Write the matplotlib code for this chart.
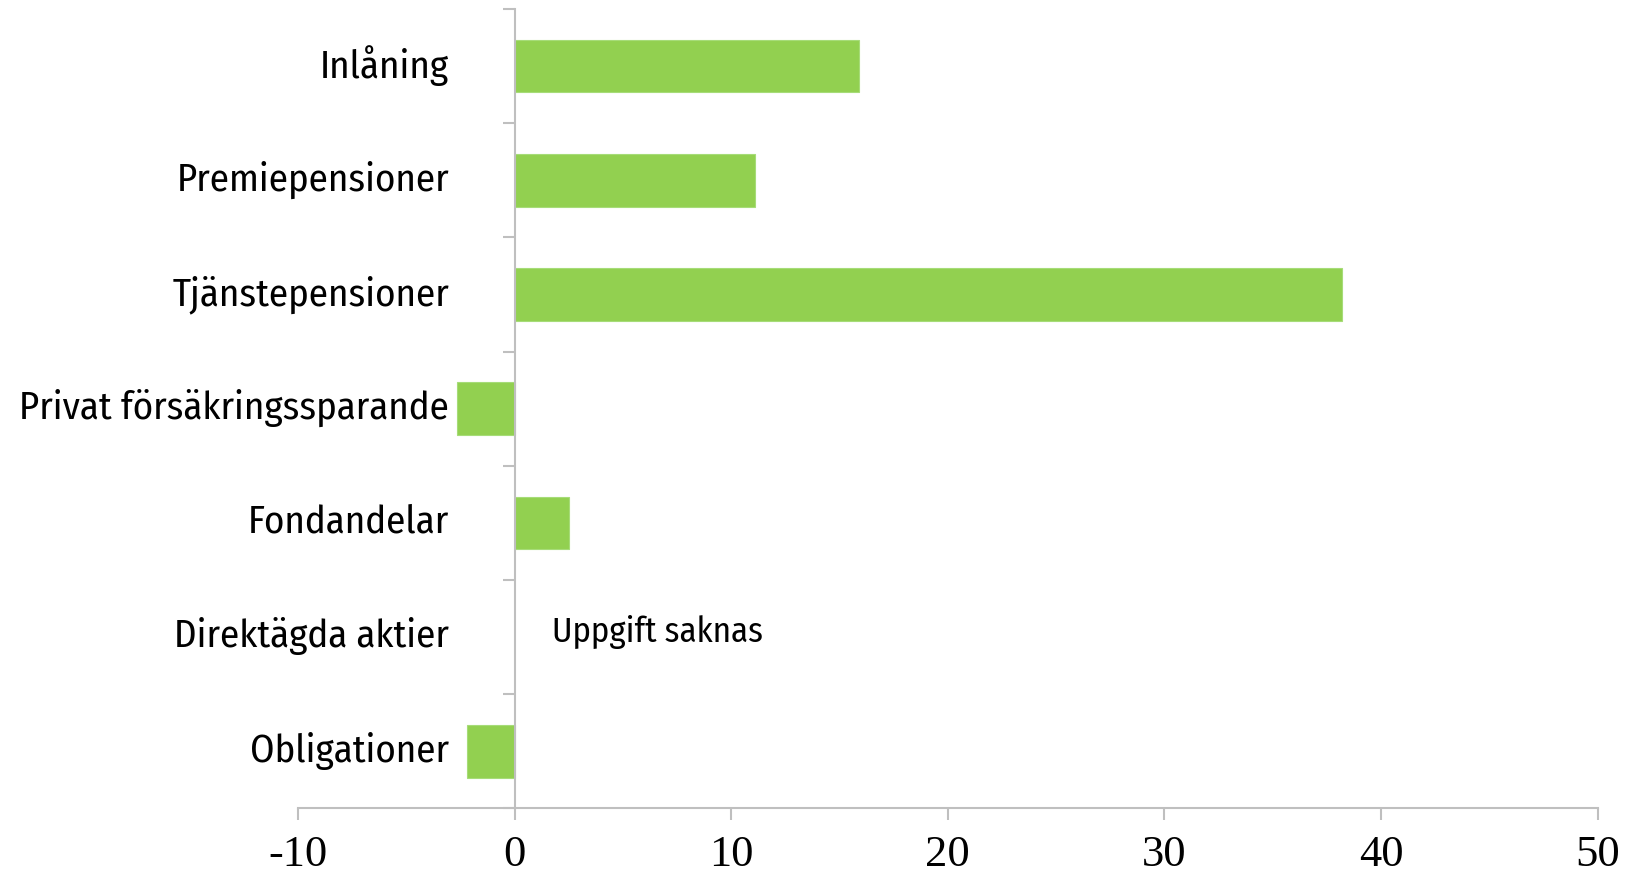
import matplotlib
matplotlib.use("Agg")
import matplotlib.pyplot as plt
from matplotlib import font_manager
from matplotlib.transforms import ScaledTranslation

categories = ["Inlåning", "Premiepensioner", "Tjänstepensioner",
              "Privat försäkringssparande", "Fondandelar", "Direktägda aktier",
              "Obligationer"]
values = [15.9, 11.1, 38.2, -2.65, 2.5, None, -2.2]
x_ticks = [-10, 0, 10, 20, 30, 40, 50]
note_text = "Uppgift saknas"

names = {f.name for f in font_manager.fontManager.ttflist}
label_font = "DejaVu Sans"
for cand in ["Fira Sans Condensed", "Roboto Condensed", "Open Sans Condensed", "Liberation Sans Narrow"]:
    if cand in names:
        label_font = cand
        break
tick_font = "Liberation Serif"

bar_color = "#92d050"
axis_color = "#bfbfbf"

fig = plt.figure(figsize=(16.29, 8.78), dpi=100)
ax = fig.add_axes([0.1829, 0.0782, 0.7979, 0.9104])

ypos = list(range(len(categories)))
for y, v in zip(ypos, values):
    if v is not None:
        ax.barh(y, v, height=0.46, color=bar_color, edgecolor="#a6dc78", linewidth=0.8)

ax.set_xlim(x_ticks[0], x_ticks[-1])
ax.set_ylim(len(categories) - 0.5, -0.5)

for s in ["top", "right"]:
    ax.spines[s].set_visible(False)
ax.spines["left"].set_position(("data", 0))
for s in ["left", "bottom"]:
    ax.spines[s].set_color(axis_color)
    ax.spines[s].set_linewidth(1.5)

ax.set_xticks(x_ticks)
ax.set_xticklabels([str(t) for t in x_ticks], fontfamily=tick_font, fontsize=32)
ax.tick_params(axis="x", direction="out", length=8.6, width=1.5, color=axis_color, pad=10)

ax.set_yticks(ypos)
ax.set_yticklabels(categories, fontfamily=label_font, fontsize=28)
ax.set_yticks([y - 0.5 for y in range(len(categories) + 1)], minor=True)
ax.tick_params(axis="y", which="major", length=0, pad=47)
ax.tick_params(axis="y", which="minor", direction="out", length=8.6, width=1.5, color=axis_color)

shift = ScaledTranslation(0, 4 / 72, fig.dpi_scale_trans)
for lbl in ax.get_yticklabels():
    lbl.set_transform(lbl.get_transform() + shift)

ax.text(1.75, 5 - 0.05, note_text, fontfamily=label_font, fontsize=25, va="center", ha="left")

fig.savefig("out.png", dpi=100)
